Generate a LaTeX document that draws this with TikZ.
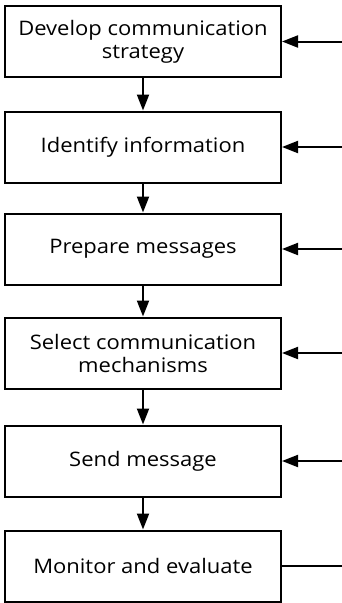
\documentclass[tikz,border=0pt]{standalone}
\usepackage{fontspec}
\setmainfont{Open Sans}[FakeStretch=1.1]
\usetikzlibrary{arrows.meta}
\begin{document}
\begin{tikzpicture}[x=1pt,y=-1pt,
  stepbox/.style={draw=black,line width=2pt,minimum width=276pt,minimum height=71pt,
    align=center,inner sep=0pt,font=\fontsize{20}{23}\selectfont},
  flow/.style={line width=2pt,-{Triangle[length=16pt,width=12pt]}},
  feed/.style={line width=2pt}]
\useasboundingbox (0,0) rectangle (342,603);
\node[stepbox] (s1) at (143,41.5) {Develop communication\\strategy};
\node[stepbox] (s2) at (143,147) {Identify information};
\node[stepbox] (s3) at (143,249) {Prepare messages};
\node[stepbox] (s4) at (143,353) {Select communication\\mechanisms};
\node[stepbox] (s5) at (143,461) {Send message};
\node[stepbox] (s6) at (143,566) {Monitor and evaluate};
\foreach \a/\b in {s1/s2,s2/s3,s3/s4,s4/s5,s5/s6}
  \draw[flow] (\a) -- (\b);
% inputs from the right
\foreach \n in {s1,s2,s3,s4,s5} {
  \coordinate (in-\n) at (342,0 |- \n.east);
  \draw[flow] (in-\n) -- (\n.east);
}
\coordinate (out-s6) at (342,0 |- s6.east);
\draw[feed] (s6.east) -- (out-s6);
\end{tikzpicture}
\end{document}
